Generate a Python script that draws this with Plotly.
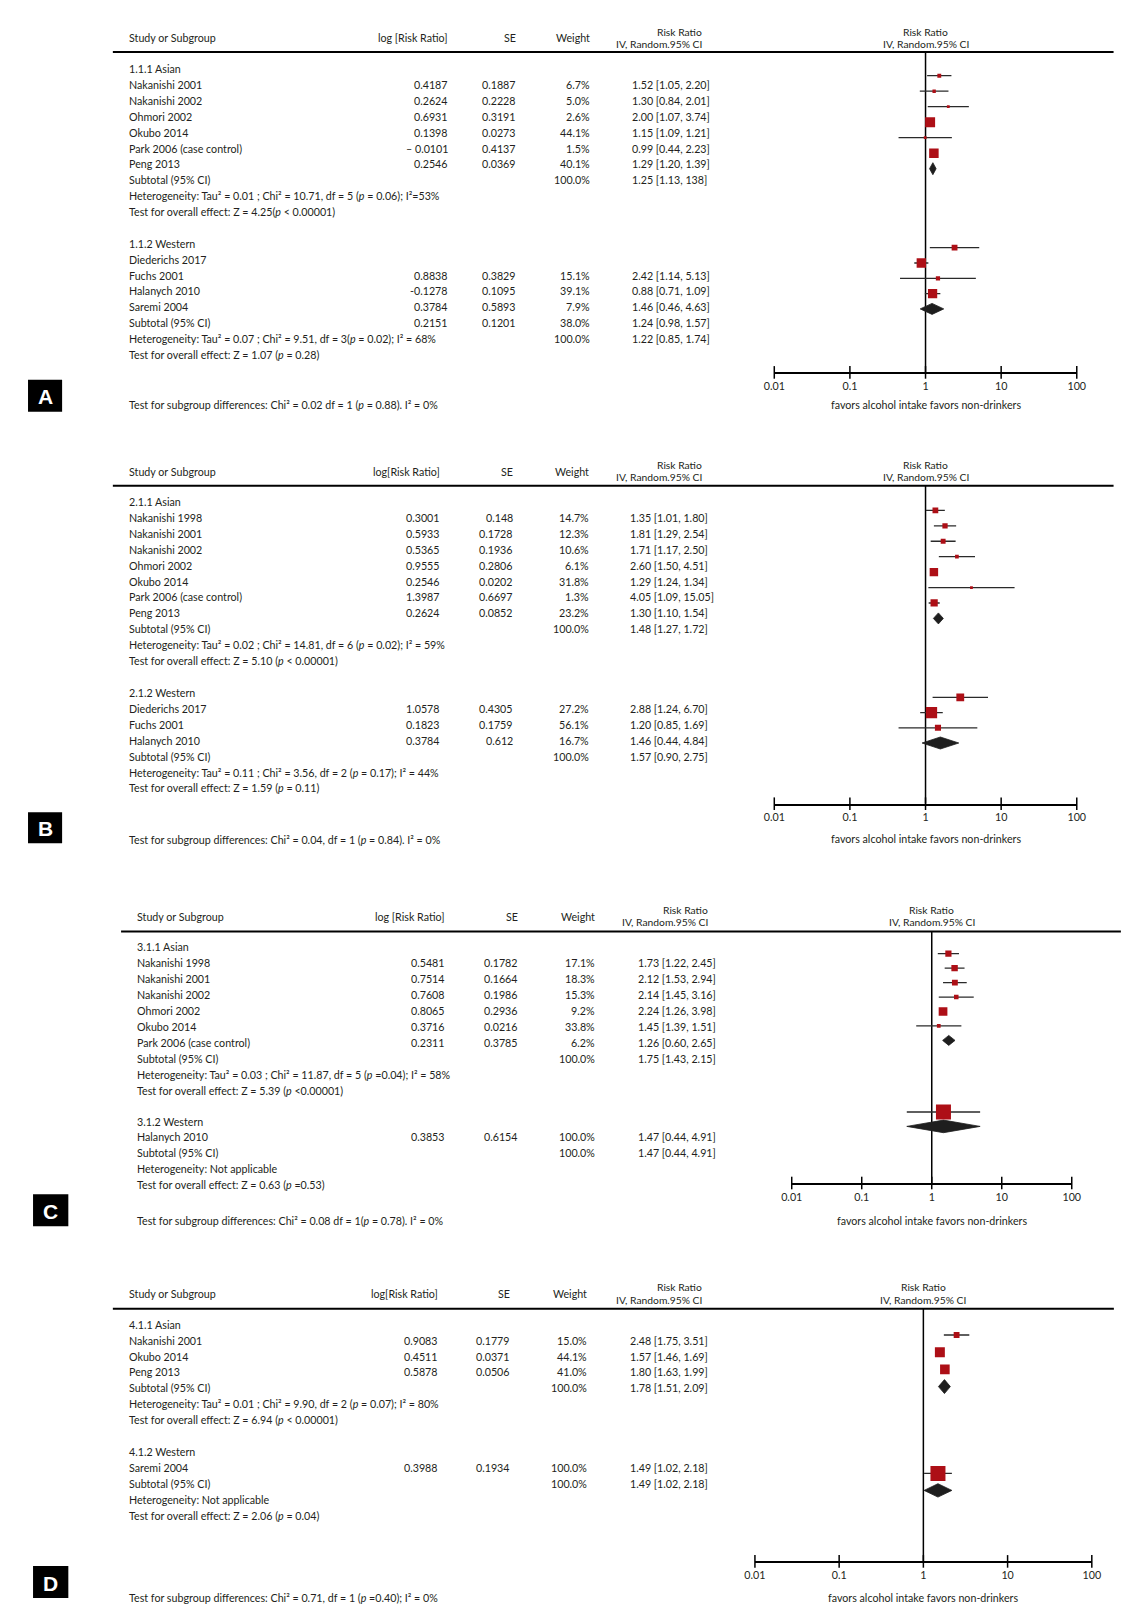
import math
import plotly.graph_objects as go

W, H = 1148, 1619
# observed page placement of the figure (target px = OX + SX * figure px ; OY + figure px)
OX, SX, OY = 20.0, 0.98, 8.3
FONT = "Lato, Roboto, sans-serif"
FS = 10.7
TXT = "#231f20"
RED = "#ad0f16"
DARK = "#1e1e1e"

# ---------------- DATA ----------------
# Panel A
A_ASIAN_STUDY = ["Nakanishi 2001", "Nakanishi 2002", "Ohmori 2002", "Okubo 2014", "Park 2006 (case control)", "Peng 2013"]
A_ASIAN_LOGRR = ["0.4187", "0.2624", "0.6931", "0.1398", "– 0.0101", "0.2546"]
A_ASIAN_SE = ["0.1887", "0.2228", "0.3191", "0.0273", "0.4137", "0.0369"]
A_ASIAN_WEIGHT = [6.7, 5.0, 2.6, 44.1, 1.5, 40.1]
A_ASIAN_RR = [1.52, 1.30, 2.00, 1.15, 0.99, 1.29]
A_ASIAN_LO = [1.05, 0.84, 1.07, 1.09, 0.44, 1.20]
A_ASIAN_HI = [2.20, 2.01, 3.74, 1.21, 2.23, 1.39]
A_ASIAN_TOTAL = [1.25, 1.13, 1.38]
A_ASIAN_TOTAL_TEXT = "1.25 [1.13, 138]"
A_ASIAN_HET = "Heterogeneity: Tau² = 0.01 ; Chi² = 10.71, df = 5 (<i>p</i> = 0.06); I²=53%"
A_ASIAN_Z = "Test for overall effect: Z = 4.25(<i>p</i> &lt; 0.00001)"

A_WEST_STUDY = ["Diederichs 2017", "Fuchs 2001", "Halanych 2010", "Saremi 2004", "Subtotal (95% CI)"]
A_WEST_LOGRR = ["", "0.8838", "-0.1278", "0.3784", "0.2151"]
A_WEST_SE = ["", "0.3829", "0.1095", "0.5893", "0.1201"]
A_WEST_WEIGHT = [None, 15.1, 39.1, 7.9, 38.0]
A_WEST_RR = [None, 2.42, 0.88, 1.46, 1.24]
A_WEST_LO = [None, 1.14, 0.71, 0.46, 0.98]
A_WEST_HI = [None, 5.13, 1.09, 4.63, 1.57]
A_WEST_TOTAL = [1.22, 0.85, 1.74]
A_WEST_HET = "Heterogeneity: Tau² = 0.07 ; Chi² = 9.51, df = 3(<i>p</i> = 0.02); I² = 68%"
A_WEST_Z = "Test for overall effect: Z = 1.07 (<i>p</i> = 0.28)"
A_DIFF = "Test for subgroup differences: Chi² = 0.02 df = 1 (<i>p</i> = 0.88). I² = 0%"

# Panel B
B_ASIAN_STUDY = ["Nakanishi 1998", "Nakanishi 2001", "Nakanishi 2002", "Ohmori 2002", "Okubo 2014", "Park 2006 (case control)", "Peng 2013"]
B_ASIAN_LOGRR = ["0.3001", "0.5933", "0.5365", "0.9555", "0.2546", "1.3987", "0.2624"]
B_ASIAN_SE = ["0.148", "0.1728", "0.1936", "0.2806", "0.0202", "0.6697", "0.0852"]
B_ASIAN_WEIGHT = [14.7, 12.3, 10.6, 6.1, 31.8, 1.3, 23.2]
B_ASIAN_RR = [1.35, 1.81, 1.71, 2.60, 1.29, 4.05, 1.30]
B_ASIAN_LO = [1.01, 1.29, 1.17, 1.50, 1.24, 1.09, 1.10]
B_ASIAN_HI = [1.80, 2.54, 2.50, 4.51, 1.34, 15.05, 1.54]
B_ASIAN_TOTAL = [1.48, 1.27, 1.72]
B_ASIAN_HET = "Heterogeneity: Tau² = 0.02 ; Chi² = 14.81, df = 6 (<i>p</i> = 0.02); I² = 59%"
B_ASIAN_Z = "Test for overall effect: Z = 5.10 (<i>p</i> &lt; 0.00001)"

B_WEST_STUDY = ["Diederichs 2017", "Fuchs 2001", "Halanych 2010"]
B_WEST_LOGRR = ["1.0578", "0.1823", "0.3784"]
B_WEST_SE = ["0.4305", "0.1759", "0.612"]
B_WEST_WEIGHT = [27.2, 56.1, 16.7]
B_WEST_RR = [2.88, 1.20, 1.46]
B_WEST_LO = [1.24, 0.85, 0.44]
B_WEST_HI = [6.70, 1.69, 4.84]
B_WEST_TOTAL = [1.57, 0.90, 2.75]
B_WEST_HET = "Heterogeneity: Tau² = 0.11 ; Chi² = 3.56, df = 2 (<i>p</i> = 0.17); I² = 44%"
B_WEST_Z = "Test for overall effect: Z = 1.59 (<i>p</i> = 0.11)"
B_DIFF = "Test for subgroup differences: Chi² = 0.04, df = 1 (<i>p</i> = 0.84). I² = 0%"

# Panel C
C_ASIAN_STUDY = ["Nakanishi 1998", "Nakanishi 2001", "Nakanishi 2002", "Ohmori 2002", "Okubo 2014", "Park 2006 (case control)"]
C_ASIAN_LOGRR = ["0.5481", "0.7514", "0.7608", "0.8065", "0.3716", "0.2311"]
C_ASIAN_SE = ["0.1782", "0.1664", "0.1986", "0.2936", "0.0216", "0.3785"]
C_ASIAN_WEIGHT = [17.1, 18.3, 15.3, 9.2, 33.8, 6.2]
C_ASIAN_RR = [1.73, 2.12, 2.14, 2.24, 1.45, 1.26]
C_ASIAN_LO = [1.22, 1.53, 1.45, 1.26, 1.39, 0.60]
C_ASIAN_HI = [2.45, 2.94, 3.16, 3.98, 1.51, 2.65]
C_ASIAN_TOTAL = [1.75, 1.43, 2.15]
C_ASIAN_HET = "Heterogeneity: Tau² = 0.03 ; Chi² = 11.87, df = 5 (<i>p</i> =0.04); I² = 58%"
C_ASIAN_Z = "Test for overall effect: Z = 5.39 (<i>p</i> &lt;0.00001)"

C_WEST_STUDY = ["Halanych 2010"]
C_WEST_LOGRR = ["0.3853"]
C_WEST_SE = ["0.6154"]
C_WEST_WEIGHT = [100.0]
C_WEST_RR = [1.47]
C_WEST_LO = [0.44]
C_WEST_HI = [4.91]
C_WEST_TOTAL = [1.47, 0.44, 4.91]
C_WEST_HET = "Heterogeneity: Not applicable"
C_WEST_Z = "Test for overall effect: Z = 0.63 (<i>p</i> =0.53)"
C_DIFF = "Test for subgroup differences: Chi² = 0.08 df = 1(<i>p</i> = 0.78). I² = 0%"

# Panel D
D_ASIAN_STUDY = ["Nakanishi 2001", "Okubo 2014", "Peng 2013"]
D_ASIAN_LOGRR = ["0.9083", "0.4511", "0.5878"]
D_ASIAN_SE = ["0.1779", "0.0371", "0.0506"]
D_ASIAN_WEIGHT = [15.0, 44.1, 41.0]
D_ASIAN_RR = [2.48, 1.57, 1.80]
D_ASIAN_LO = [1.75, 1.46, 1.63]
D_ASIAN_HI = [3.51, 1.69, 1.99]
D_ASIAN_TOTAL = [1.78, 1.51, 2.09]
D_ASIAN_HET = "Heterogeneity: Tau² = 0.01 ; Chi² = 9.90, df = 2 (<i>p</i> = 0.07); I² = 80%"
D_ASIAN_Z = "Test for overall effect: Z = 6.94 (<i>p</i> &lt; 0.00001)"

D_WEST_STUDY = ["Saremi 2004"]
D_WEST_LOGRR = ["0.3988"]
D_WEST_SE = ["0.1934"]
D_WEST_WEIGHT = [100.0]
D_WEST_RR = [1.49]
D_WEST_LO = [1.02]
D_WEST_HI = [2.18]
D_WEST_TOTAL = [1.49, 1.02, 2.18]
D_WEST_HET = "Heterogeneity: Not applicable"
D_WEST_Z = "Test for overall effect: Z = 2.06 (<i>p</i> = 0.04)"
D_DIFF = "Test for subgroup differences: Chi² = 0.71, df = 1 (<i>p</i> =0.40); I² = 0%"

TICK_VALS = [0.01, 0.1, 1, 10, 100]
TICK_TEXT = ["0.01", "0.1", "1", "10", "100"]
FAVORS = "favors alcohol intake favors non-drinkers"


# ---------------- helpers ----------------
def fmt_ci(rr, lo, hi):
    return f"{rr:.2f} [{lo:.2f}, {hi:.2f}]"


def fmt_w(w):
    return f"{w:.1f}%"


def px_to_xfrac(t):
    return (t - OX) / SX / W


def px_to_yfrac(t):
    return 1 - (t - OY) / H


def block(label, names, logrr, se, weight, rr, lo, hi, total, het, z,
          total_on_het=False, total_text=None):
    rows = [(label, "", "", "", "", None)]
    for i, n in enumerate(names):
        if rr[i] is None:
            rows.append((n, logrr[i], se[i], "", "", None))
        else:
            rows.append((n, logrr[i], se[i], fmt_w(weight[i]), fmt_ci(rr[i], lo[i], hi[i]),
                         ("sq", rr[i], lo[i], hi[i], weight[i])))
    tmark = ("dia", total[0], total[1], total[2], 100.0)
    ttext = total_text or fmt_ci(*total)
    if total_on_het:
        rows.append((het, "", "", "100.0%", ttext, tmark))
    else:
        rows.append(("Subtotal (95% CI)", "", "", "100.0%", ttext, tmark))
        rows.append((het, "", "", "", "", None))
    rows.append((z, "", "", "", "", None))
    return rows


PANELS = [
    dict(letter="A", logrr_hdr="log [Risk Ratio]",
         cols=dict(study=128, logrr=450, se=518, w=591, ci=629, rr=703),
         hdr_y=38, rr_y=(32, 44.5), line_y=52.3, line_x=(113.6, 1111.7),
         ax=(773.3, 1075), axis_y=372.7, favors_y=405, box=(29, 380, 63, 412),
         blocks=[
             dict(y0=69.2, sp=15.83, fy0=76, fsp=15.5, dh=6,
                  rows=block("1.1.1 Asian", A_ASIAN_STUDY, A_ASIAN_LOGRR, A_ASIAN_SE, A_ASIAN_WEIGHT,
                             A_ASIAN_RR, A_ASIAN_LO, A_ASIAN_HI, A_ASIAN_TOTAL, A_ASIAN_HET, A_ASIAN_Z,
                             total_text=A_ASIAN_TOTAL_TEXT)),
             dict(y0=243.7, sp=15.83, fy0=248, fsp=15.3, dh=5.5,
                  rows=block("1.1.2 Western", A_WEST_STUDY, A_WEST_LOGRR, A_WEST_SE, A_WEST_WEIGHT,
                             A_WEST_RR, A_WEST_LO, A_WEST_HI, A_WEST_TOTAL, A_WEST_HET, A_WEST_Z,
                             total_on_het=True)),
         ], diff=A_DIFF, diff_y=404.8),
    dict(letter="B", logrr_hdr="log[Risk Ratio]",
         cols=dict(study=128, logrr=441.5, se=514.3, w=590.6, ci=627, rr=703),
         hdr_y=471.9, rr_y=(465, 477.5), line_y=486, line_x=(113.6, 1111.7),
         ax=(773.3, 1075), axis_y=804, favors_y=838.4, box=(29, 812.6, 63, 843.6),
         blocks=[
             dict(y0=501.8, sp=15.9, fy0=510.7, fsp=15.43, dh=5.5,
                  rows=block("2.1.1 Asian", B_ASIAN_STUDY, B_ASIAN_LOGRR, B_ASIAN_SE, B_ASIAN_WEIGHT,
                             B_ASIAN_RR, B_ASIAN_LO, B_ASIAN_HI, B_ASIAN_TOTAL, B_ASIAN_HET, B_ASIAN_Z)),
             dict(y0=692.8, sp=15.9, fy0=697.7, fsp=15.2, dh=6,
                  rows=block("2.1.2 Western", B_WEST_STUDY, B_WEST_LOGRR, B_WEST_SE, B_WEST_WEIGHT,
                             B_WEST_RR, B_WEST_LO, B_WEST_HI, B_WEST_TOTAL, B_WEST_HET, B_WEST_Z)),
         ], diff=B_DIFF, diff_y=839.4),
    dict(letter="C", logrr_hdr="log [Risk Ratio]",
         cols=dict(study=135.3, logrr=447, se=520, w=596.6, ci=635, rr=709.4),
         hdr_y=916.9, rr_y=(910, 922.5), line_y=931.7, line_x=(121.8, 1119),
         ax=(790.7, 1070), axis_y=1183.3, favors_y=1220.4, box=(34, 1194.6, 69.2, 1226.6),
         blocks=[
             dict(y0=946.8, sp=15.95, fy0=954, fsp=14.45, dh=5,
                  rows=block("3.1.1 Asian", C_ASIAN_STUDY, C_ASIAN_LOGRR, C_ASIAN_SE, C_ASIAN_WEIGHT,
                             C_ASIAN_RR, C_ASIAN_LO, C_ASIAN_HI, C_ASIAN_TOTAL, C_ASIAN_HET, C_ASIAN_Z)),
             dict(y0=1121.3, sp=15.95, fy0=1112.3, fsp=14.4, dh=6.3,
                  rows=block("3.1.2 Western", C_WEST_STUDY, C_WEST_LOGRR, C_WEST_SE, C_WEST_WEIGHT,
                             C_WEST_RR, C_WEST_LO, C_WEST_HI, C_WEST_TOTAL, C_WEST_HET, C_WEST_Z)),
         ], diff=C_DIFF, diff_y=1220.4),
    dict(letter="D", logrr_hdr="log[Risk Ratio]",
         cols=dict(study=128, logrr=439.5, se=512, w=588.4, ci=627.5, rr=703.2),
         hdr_y=1293.8, rr_y=(1287.5, 1300), line_y=1309, line_x=(113.6, 1112),
         ax=(754, 1090), axis_y=1561.7, favors_y=1597.3, box=(34, 1566.3, 69.2, 1598.3),
         blocks=[
             dict(y0=1324.7, sp=15.83, fy0=1335.3, fsp=17.2, dh=7,
                  rows=block("4.1.1 Asian", D_ASIAN_STUDY, D_ASIAN_LOGRR, D_ASIAN_SE, D_ASIAN_WEIGHT,
                             D_ASIAN_RR, D_ASIAN_LO, D_ASIAN_HI, D_ASIAN_TOTAL, D_ASIAN_HET, D_ASIAN_Z)),
             dict(y0=1451.7, sp=16.0, fy0=1473.7, fsp=17, dh=6.7,
                  rows=block("4.1.2 Western", D_WEST_STUDY, D_WEST_LOGRR, D_WEST_SE, D_WEST_WEIGHT,
                             D_WEST_RR, D_WEST_LO, D_WEST_HI, D_WEST_TOTAL, D_WEST_HET, D_WEST_Z)),
         ], diff=D_DIFF, diff_y=1597.3),
]

# ---------------- figure ----------------
fig = go.Figure()
annotations = []
shapes = []


def text(x, y, s, anchor="left", size=FS, color=TXT, xref="x", family=FONT):
    annotations.append(dict(x=x, y=y, xref=xref, yref="y", text=s, showarrow=False,
                            xanchor=anchor, yanchor="middle",
                            font=dict(family=family, size=size, color=color)))


layout = dict(
    width=W, height=H, margin=dict(l=0, r=0, t=0, b=0, pad=0), autosize=False,
    paper_bgcolor="white", plot_bgcolor="rgba(0,0,0,0)", showlegend=False,
    # page-pixel coordinate system for texts and rules
    xaxis=dict(range=[OX, OX + SX * W], domain=[0, 1], visible=False, fixedrange=True),
    yaxis=dict(range=[OY + H, OY], domain=[0, 1], visible=False, fixedrange=True),
)

fig.add_trace(go.Scatter(x=[OX], y=[OY], mode="markers", marker=dict(opacity=0), hoverinfo="skip"))

for k, P in enumerate(PANELS):
    n = k + 2
    xa, ya = f"x{n}", f"y{n}"
    c = P["cols"]
    top = P["line_y"] - 20
    layout[f"yaxis{n}"] = dict(range=[P["axis_y"], top],
                               domain=[px_to_yfrac(P["axis_y"]), px_to_yfrac(top)],
                               visible=False, fixedrange=True, anchor=xa)
    layout[f"xaxis{n}"] = dict(
        type="log", range=[-2, 2], domain=[px_to_xfrac(P["ax"][0]), px_to_xfrac(P["ax"][1])],
        anchor=ya, side="bottom",
        showline=True, linecolor="black", linewidth=1.5,
        ticks="", ticklabelstandoff=3,
        tickvals=TICK_VALS, ticktext=TICK_TEXT,
        tickfont=dict(family=FONT, size=FS, color=TXT),
        showgrid=False, zeroline=False, fixedrange=True,
    )
    # header
    text(c["study"], P["hdr_y"], "Study or Subgroup")
    text(c["logrr"], P["hdr_y"], P["logrr_hdr"], anchor="right")
    text(c["se"], P["hdr_y"], "SE", anchor="right")
    text(c["w"], P["hdr_y"], "Weight", anchor="right")
    text(c["rr"], P["rr_y"][0], "Risk Ratio", anchor="right", size=10.3)
    text(c["rr"], P["rr_y"][1], "IV, Random.95% CI", anchor="right", size=10.3)
    text(0, P["rr_y"][0], "Risk Ratio", anchor="center", xref=xa, size=10.3)
    text(0, P["rr_y"][1], "IV, Random.95% CI", anchor="center", xref=xa, size=10.3)
    shapes.append(dict(type="line", xref="x", yref="y", x0=P["line_x"][0], x1=P["line_x"][1],
                       y0=P["line_y"], y1=P["line_y"], line=dict(color="black", width=2)))

    # vertical no-effect line and crossing tick marks
    fig.add_trace(go.Scatter(x=[1, 1], y=[P["line_y"], P["axis_y"]], xaxis=xa, yaxis=ya,
                             mode="lines", line=dict(color="black", width=1.5), hoverinfo="skip",
                             cliponaxis=False))
    fig.add_trace(go.Scatter(x=TICK_VALS, y=[P["axis_y"]] * len(TICK_VALS), xaxis=xa, yaxis=ya,
                             mode="markers", hoverinfo="skip", cliponaxis=False,
                             marker=dict(symbol="line-ns", size=9, color="black",
                                         line=dict(width=1.5, color="black"))))

    ci_x, ci_y, sq_x, sq_y, sq_s = [], [], [], [], []
    for B in P["blocks"]:
        j = 0
        for i, (name, lg, se, w, ci, mark) in enumerate(B["rows"]):
            y = B["y0"] + i * B["sp"]
            text(c["study"], y, name)
            if lg:
                text(c["logrr"], y, lg, anchor="right")
            if se:
                text(c["se"], y, se, anchor="right")
            if w:
                text(c["w"], y, w, anchor="right")
            if ci:
                text(c["ci"], y, ci)
            if mark is not None:
                fy = B["fy0"] + j * B["fsp"]
                j += 1
                kind, rr, lo, hi, wt = mark
                if kind == "sq":
                    ci_x += [lo, hi, None]
                    ci_y += [fy, fy, None]
                    sq_x.append(rr)
                    sq_y.append(fy)
                    sq_s.append(max(2.8, 1.5 * math.sqrt(wt)))
                else:
                    h = B["dh"]
                    fig.add_trace(go.Scatter(x=[lo, rr, hi, rr, lo], y=[fy, fy - h, fy, fy + h, fy],
                                             xaxis=xa, yaxis=ya, mode="lines", fill="toself",
                                             fillcolor=DARK, line=dict(color=DARK, width=0.8),
                                             hoverinfo="skip"))
    fig.add_trace(go.Scatter(x=ci_x, y=ci_y, xaxis=xa, yaxis=ya, mode="lines",
                             line=dict(color="#2a2a2a", width=1.3), hoverinfo="skip"))
    fig.add_trace(go.Scatter(x=sq_x, y=sq_y, xaxis=xa, yaxis=ya, mode="markers",
                             marker=dict(symbol="square", size=sq_s, color=RED, opacity=1,
                                         line=dict(width=0)),
                             hoverinfo="skip"))

    text(P["cols"]["study"], P["diff_y"], P["diff"])
    text(0, P["favors_y"], FAVORS, anchor="center", xref=xa)

    # panel letter box
    x0, y0, x1, y1 = P["box"]
    shapes.append(dict(type="rect", xref="x", yref="y", x0=x0, x1=x1, y0=y0, y1=y1,
                       fillcolor="black", line=dict(width=0)))
    text((x0 + x1) / 2, (y0 + y1) / 2 + 1, f"<b>{P['letter']}</b>", anchor="center", size=21,
         color="white", family="Liberation Sans, Arial, sans-serif")

layout["annotations"] = annotations
layout["shapes"] = shapes
fig.update_layout(**layout)
fig.write_html("out.html")
